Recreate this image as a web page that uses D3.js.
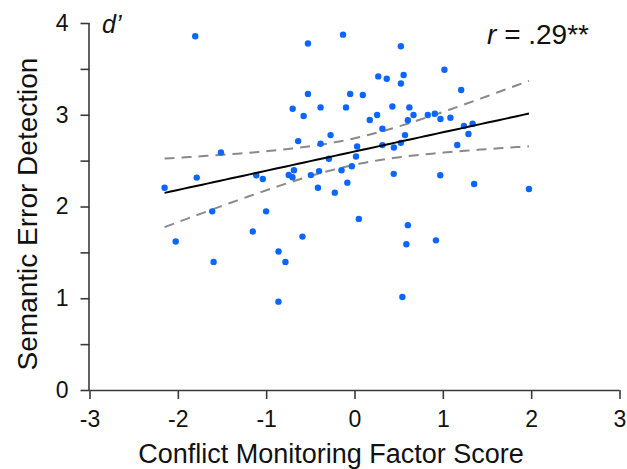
<!DOCTYPE html>
<html>
<head>
<meta charset="utf-8">
<script src="https://cdn.jsdelivr.net/npm/d3@7"></script>
<style>
  html, body { margin: 0; padding: 0; background: #fff; }
  svg { display: block; font-family: "Liberation Sans", Arial, sans-serif; }
</style>
</head>
<body>
<svg id="chart" width="627" height="469"></svg>
<script>
// Conflict Monitoring Factor Score (x) and Semantic Error Detection d' (y)
const factorScore = [
  -1.803, -1.512, -0.527, -0.130, 0.525, 1.018, 0.269, 0.365, 0.556, 0.525,
  1.208, -0.527, -0.049, 0.094, -0.700, -0.576, -0.384, -0.096, 0.429, 0.621,
  0.256, 0.173, 0.668, 0.604, 0.830, 0.909, 0.973, 1.086, 0.316, 0.572,
  -0.271, -0.638, -0.384, 0.030, 0.316, 0.446, 0.525, 1.239, 1.337, 1.290,
  1.163, -0.290, 0.017, -0.030, -0.147, -2.150, -1.786, -1.112, -1.038, -0.745,
  -0.685, -0.702, -0.494, -0.401, -0.414, -0.223, -0.081, 0.444, 0.971, 1.354,
  1.975, -1.611, -1.001, 0.049, -2.024, -1.151, -0.589, 0.604, 0.587, 0.922,
  -0.860, -1.595, -0.782, -0.861, 0.542
];
const dPrime = [
  3.855, 2.589, 3.777, 3.873, 3.747, 3.491, 3.418, 3.393, 3.433, 3.340,
  3.269, 3.227, 3.227, 3.215, 3.065, 2.986, 3.080, 3.080, 3.090, 3.080,
  2.998, 2.942, 2.997, 2.940, 2.997, 3.011, 2.954, 2.967, 2.847, 2.778,
  2.778, 2.713, 2.684, 2.654, 2.669, 2.643, 2.694, 2.877, 2.902, 2.790,
  2.671, 2.520, 2.545, 2.438, 2.395, 2.204, 2.315, 2.340, 2.300, 2.343,
  2.395, 2.318, 2.342, 2.386, 2.204, 2.151, 2.260, 2.356, 2.340, 2.245,
  2.190, 1.947, 1.947, 1.865, 1.618, 1.727, 1.672, 1.797, 1.589, 1.631,
  1.509, 1.396, 1.396, 0.963, 1.014
];
const xTicks = [-3, -2, -1, 0, 1, 2, 3];
const xTickLabels = ["-3", "-2", "-1", "0", "1", "2", "3"];
const yTicks = [0, 0.5, 1, 1.5, 2, 2.5, 3, 3.5, 4];
const yTickLabels = ["0", "", "1", "", "2", "", "3", "", "4"];
const xTitle = "Conflict Monitoring Factor Score";
const yTitle = "Semantic Error Detection";
const tCrit = 1.993; // t(0.975, df = n - 2)

const svg = d3.select("#chart");
const x = d3.scaleLinear().domain([-3, 3]).range([89.5, 619.5]);
const y = d3.scaleLinear().domain([0, 4]).range([390, 23]);
const axisColor = "#3a3a3a";

// Regression and 95% confidence band computed from the data
const n = factorScore.length;
const mx = d3.mean(factorScore), my = d3.mean(dPrime);
let sxx = 0, sxy = 0;
for (let i = 0; i < n; i++) {
  sxx += (factorScore[i] - mx) ** 2;
  sxy += (factorScore[i] - mx) * (dPrime[i] - my);
}
const slope = sxy / sxx, intercept = my - slope * mx;
let sse = 0;
for (let i = 0; i < n; i++) sse += (dPrime[i] - intercept - slope * factorScore[i]) ** 2;
const s = Math.sqrt(sse / (n - 2));
const [xmin, xmax] = d3.extent(factorScore);
const grid = d3.range(0, 61).map(k => xmin + (xmax - xmin) * k / 60);
const band = grid.map(g => {
  const fit = intercept + slope * g;
  const h = tCrit * s * Math.sqrt(1 / n + (g - mx) ** 2 / sxx);
  return { g, fit, lo: fit - h, hi: fit + h };
});

// Axes
const gx = svg.append("g").attr("transform", "translate(0,390)")
  .call(d3.axisBottom(x).tickValues(xTicks).tickSize(9).tickPadding(12)
    .tickFormat((d, i) => xTickLabels[i]));
const gy = svg.append("g").attr("transform", "translate(89.5,0)")
  .call(d3.axisLeft(y).tickValues(yTicks).tickSize(9).tickPadding(12)
    .tickFormat((d, i) => yTickLabels[i]));
[gx, gy].forEach(g => {
  g.select(".domain").attr("stroke", axisColor).attr("stroke-width", 1.6);
  g.selectAll(".tick line").attr("stroke", axisColor).attr("stroke-width", 1.6);
  g.selectAll(".tick text").attr("fill", "#111").style("font-size", "23px")
    .style("font-family", "'Liberation Sans', Arial, sans-serif");
});
gy.select(".domain").attr("d", `M-0.5,${y(4)}V${y(0)}`);
gx.select(".domain").attr("d", `M${x(-3)},0.5H${x(3)}`);

// Confidence band (dashed)
const line = d3.line().x(d => x(d[0])).y(d => y(d[1]));
svg.append("path").datum(band.map(b => [b.g, b.hi]))
  .attr("d", line).attr("fill", "none").attr("stroke", "#8a8a8a")
  .attr("stroke-width", 2).attr("stroke-dasharray", "10,7");
svg.append("path").datum(band.map(b => [b.g, b.lo]))
  .attr("d", line).attr("fill", "none").attr("stroke", "#8a8a8a")
  .attr("stroke-width", 2).attr("stroke-dasharray", "10,7");

// Points
svg.append("g").selectAll("circle").data(factorScore).join("circle")
  .attr("cx", d => x(d)).attr("cy", (d, i) => y(dPrime[i]))
  .attr("r", 3.2).attr("fill", "#0a66ff");

// Fit line
svg.append("path").datum(band.map(b => [b.g, b.fit]))
  .attr("d", line).attr("fill", "none").attr("stroke", "#000")
  .attr("stroke-width", 2);

// Titles
svg.append("text").attr("x", 331).attr("y", 463).attr("text-anchor", "middle")
  .style("font-size", "27px").attr("fill", "#111").text(xTitle);
svg.append("text").attr("transform", "translate(37,214) rotate(-90)")
  .attr("text-anchor", "middle").style("font-size", "28px").attr("fill", "#111").text(yTitle);

svg.append("text").attr("x", 102).attr("y", 33).style("font-size", "25px")
  .style("font-style", "italic").attr("fill", "#111").text("d\u2019");

const rt = svg.append("text").attr("x", 589).attr("y", 44).attr("text-anchor", "end")
  .style("font-size", "28px").attr("fill", "#111");
rt.append("tspan").style("font-style", "italic").text("r");
rt.append("tspan").text(" = .29**");
</script>
</body>
</html>
